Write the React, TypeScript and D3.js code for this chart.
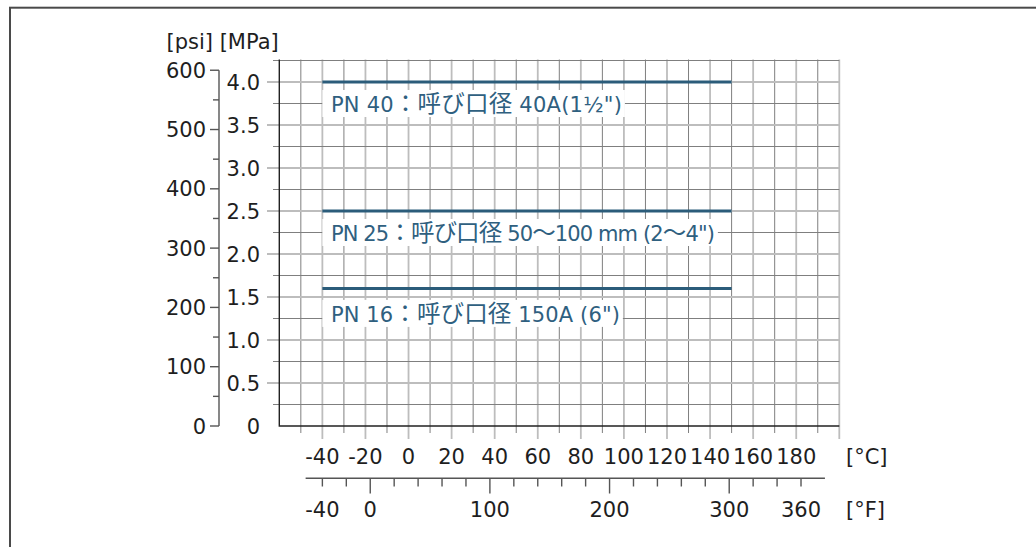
import React, { useEffect, useRef } from "react";
import * as d3 from "d3";

// ---- data ----
const celsiusLabels = [-40, -20, 0, 20, 40, 60, 80, 100, 120, 140, 160, 180];
const fahrenheitLabels = [-40, 0, 100, 200, 300, 360];
const mpaLabels = [0, 0.5, 1.0, 1.5, 2.0, 2.5, 3.0, 3.5, 4.0];
const psiLabels = [0, 100, 200, 300, 400, 500, 600];
const seriesLabels = [
  'PN 40：呼び口径 40A(1½")',
  'PN 25：呼び口径 50～100 mm (2～4")',
  'PN 16：呼び口径 150A (6")',
];
const seriesPressureMPa = [4.0, 2.5, 1.6];
const seriesTempFrom = [-40, -40, -40];
const seriesTempTo = [150, 150, 150];

const W = 1036;
const H = 547;
const FONT = "'DejaVu Sans', 'Noto Sans CJK JP', sans-serif";
const FS = 21;
const CJK_FS = 23.5;
const LINE_COLOR = "#2b5c7a";
const LABEL_COLOR = "#2f607f";
const TEXT_COLOR = "#1e1e1e";
// rendered widths of the series labels (layout, matches the reference typeface)
const LABEL_WIDTHS = [291, 384, 289];
const LABEL_DY = [30, 30, 33.5];

const isCJK = (ch: string) => {
  const c = ch.codePointAt(0) || 0;
  return (c >= 0x3000 && c <= 0x9fff) || (c >= 0xff00 && c <= 0xffef);
};

function splitRuns(s: string) {
  const runs: { text: string; cjk: boolean }[] = [];
  for (const ch of Array.from(s)) {
    const cjk = isCJK(ch);
    const last = runs[runs.length - 1];
    if (last && last.cjk === cjk) last.text += ch;
    else runs.push({ text: ch, cjk });
  }
  return runs;
}

export default function App() {
  const ref = useRef<SVGSVGElement | null>(null);

  useEffect(() => {
    const svg = d3.select(ref.current);
    svg.selectAll("*").remove();

    const x = d3.scaleLinear().domain([-60, 200]).range([279.3, 839.3]);
    const y = d3.scaleLinear().domain([0, 4.25]).range([426, 60.5]);
    const psiToMPa = (p: number) => p * 0.00689476;
    const fToC = (f: number) => (f - 32) / 1.8;
    const xF = (f: number) => x(fToC(f));
    const yPsi = (p: number) => y(psiToMPa(p));

    // outer frame
    svg
      .append("rect")
      .attr("x", 10)
      .attr("y", 7.7)
      .attr("width", W + 20)
      .attr("height", H + 20)
      .attr("fill", "none")
      .attr("stroke", "#4a4a4a")
      .attr("stroke-width", 2);

    const grid = svg.append("g");
    // vertical grid lines (every 10 °C)
    d3.range(-50, 201, 10).forEach((c) => {
      const major = c % 20 === 0;
      grid
        .append("line")
        .attr("x1", x(c))
        .attr("x2", x(c))
        .attr("y1", y(4.25) - 1)
        .attr("y2", major ? 439 : 433)
        .attr("stroke", major ? "#bdbdbd" : "#7f7f7f")
        .attr("stroke-width", major ? 1.8 : 1);
    });
    // horizontal grid lines (every 0.25 MPa)
    d3.range(1, 18)
      .map((i) => i * 0.25)
      .forEach((m) => {
        const major = Math.abs(m * 2 - Math.round(m * 2)) < 1e-9;
        grid
          .append("line")
          .attr("x1", major ? 267 : 273)
          .attr("x2", x(200))
          .attr("y1", y(m))
          .attr("y2", y(m))
          .attr("stroke", major ? "#bdbdbd" : "#7f7f7f")
          .attr("stroke-width", major ? 1.8 : 1);
      });

    // main axes
    svg
      .append("path")
      .attr("d", `M${x(-60)},${y(4.25) - 1}V${y(0)}H${x(200)}`)
      .attr("fill", "none")
      .attr("stroke", "#222")
      .attr("stroke-width", 1.4);

    // MPa labels
    svg
      .append("g")
      .selectAll("text")
      .data(mpaLabels)
      .join("text")
      .attr("x", 260)
      .attr("y", (d) => y(d))
      .attr("dy", "0.36em")
      .attr("text-anchor", "end")
      .attr("font-family", FONT)
      .attr("font-size", FS)
      .attr("fill", TEXT_COLOR)
      .text((d) => (d === 0 ? "0" : d3.format(".1f")(d)));

    // psi axis
    const psiG = svg.append("g");
    psiG
      .append("line")
      .attr("x1", 219)
      .attr("x2", 219)
      .attr("y1", yPsi(600))
      .attr("y2", yPsi(0))
      .attr("stroke", "#555")
      .attr("stroke-width", 1.4);
    d3.range(0, 601, 50).forEach((p) => {
      const major = p % 100 === 0;
      psiG
        .append("line")
        .attr("x1", major ? 210 : 213)
        .attr("x2", 219)
        .attr("y1", yPsi(p))
        .attr("y2", yPsi(p))
        .attr("stroke", "#555")
        .attr("stroke-width", 1.4);
    });
    psiG
      .selectAll("text")
      .data(psiLabels)
      .join("text")
      .attr("x", 206)
      .attr("y", (d) => yPsi(d))
      .attr("dy", "0.36em")
      .attr("text-anchor", "end")
      .attr("font-family", FONT)
      .attr("font-size", FS)
      .attr("fill", TEXT_COLOR)
      .text((d) => String(d));

    // axis title
    svg
      .append("text")
      .attr("x", 166.5)
      .attr("y", 49)
      .attr("font-family", FONT)
      .attr("font-size", FS)
      .attr("fill", TEXT_COLOR)
      .text("[psi] [MPa]");

    // Celsius labels
    svg
      .append("g")
      .selectAll("text")
      .data(celsiusLabels)
      .join("text")
      .attr("x", (d) => x(d))
      .attr("y", 464)
      .attr("text-anchor", "middle")
      .attr("font-family", FONT)
      .attr("font-size", FS)
      .attr("fill", TEXT_COLOR)
      .text((d) => String(d));
    svg
      .append("text")
      .attr("x", 846)
      .attr("y", 464)
      .attr("font-family", FONT)
      .attr("font-size", FS)
      .attr("fill", TEXT_COLOR)
      .text("[°C]");

    // Fahrenheit axis
    const fG = svg.append("g");
    fG.append("line")
      .attr("x1", xF(-54))
      .attr("x2", xF(380))
      .attr("y1", 478.3)
      .attr("y2", 478.3)
      .attr("stroke", "#555")
      .attr("stroke-width", 1.4);
    d3.range(-40, 361, 20).forEach((f) => {
      const major = f % 100 === 0;
      fG.append("line")
        .attr("x1", xF(f))
        .attr("x2", xF(f))
        .attr("y1", 478.3)
        .attr("y2", major ? 493.5 : 486.5)
        .attr("stroke", "#555")
        .attr("stroke-width", 1.4);
    });
    fG.selectAll("text")
      .data(fahrenheitLabels)
      .join("text")
      .attr("x", (d) => xF(d))
      .attr("y", 516.5)
      .attr("text-anchor", "middle")
      .attr("font-family", FONT)
      .attr("font-size", FS)
      .attr("fill", TEXT_COLOR)
      .text((d) => String(d));
    svg
      .append("text")
      .attr("x", 846)
      .attr("y", 516.5)
      .attr("font-family", FONT)
      .attr("font-size", FS)
      .attr("fill", TEXT_COLOR)
      .text("[°F]");

    // series
    const sG = svg.append("g");
    seriesLabels.forEach((label, i) => {
      const ly = y(seriesPressureMPa[i]) + LABEL_DY[i];
      const x0 = x(seriesTempFrom[i]);
      sG.append("rect")
        .attr("fill", "#fff")
        .attr("x", x0)
        .attr("y", ly - 22)
        .attr("width", 8.5 + LABEL_WIDTHS[i] + 3)
        .attr("height", 27);
      const t = sG
        .append("text")
        .attr("x", x0 + 8.5)
        .attr("y", ly)
        .attr("font-family", FONT)
        .attr("font-size", FS)
        .attr("fill", LABEL_COLOR)
        .attr("textLength", LABEL_WIDTHS[i])
        .attr("lengthAdjust", "spacing");
      splitRuns(label).forEach((r) => {
        t.append("tspan")
          .attr("font-size", r.cjk ? CJK_FS : FS)
          .text(r.text);
      });
      sG.append("line")
        .attr("x1", x0)
        .attr("x2", x(seriesTempTo[i]))
        .attr("y1", y(seriesPressureMPa[i]))
        .attr("y2", y(seriesPressureMPa[i]))
        .attr("stroke", LINE_COLOR)
        .attr("stroke-width", 3);
    });
  }, []);

  return (
    <svg
      ref={ref}
      width={W}
      height={H}
      style={{ position: "absolute", left: 0, top: 0, background: "#fff" }}
    />
  );
}
